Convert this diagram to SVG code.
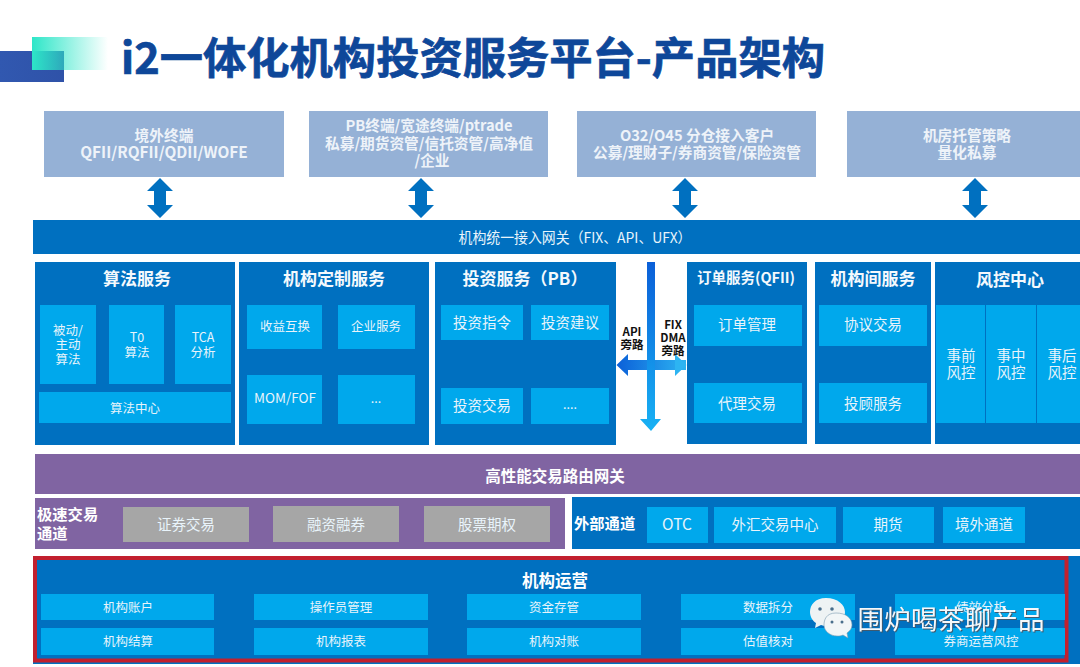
<svg xmlns="http://www.w3.org/2000/svg" width="1080" height="667" viewBox="0 0 1080 667">
<style>
text{font-family:"Noto Sans CJK SC","Noto Sans",sans-serif;text-anchor:middle;fill:#e9f4fb}
.top{fill:#95b1d6}.bar{fill:#0070c0}.sub{fill:#00a8ec}.pur{fill:#8064a2}.gray{fill:#a6a6a6}
.tt{font-size:14.7px;font-weight:700;fill:#eef3f9}
.h{font-size:17px;font-weight:700;fill:#f4f9fd}
.s{font-size:14.5px}.xs{font-size:12.5px}.m{font-size:15.5px}
.b{font-size:15.3px;font-weight:700;fill:#fff;text-anchor:start}
.blk{font-size:11.5px;font-weight:700;fill:#111}
.ar{fill:#0070c0}
</style>
<defs>
<linearGradient id="g1" x1="0" x2="1" y1="0" y2="0"><stop offset="0" stop-color="#3158b0"/><stop offset="1" stop-color="#2f52a8"/></linearGradient>
<linearGradient id="g2" x1="0" x2="1" y1="0" y2="0"><stop offset="0" stop-color="#2de6c8"/><stop offset="1" stop-color="#2de6c8" stop-opacity="0"/></linearGradient>
<linearGradient id="g3" x1="0" x2="0" y1="262" y2="431" gradientUnits="userSpaceOnUse"><stop offset="0" stop-color="#0b5fd8"/><stop offset="1" stop-color="#18b2f4"/></linearGradient>
<linearGradient id="g4" x1="616" x2="687" y1="0" y2="0" gradientUnits="userSpaceOnUse"><stop offset="0" stop-color="#0b5fd8"/><stop offset="1" stop-color="#2db4f2"/></linearGradient>
<path id="dbl" d="M0 0L13 13H6V27H13L0 40L-13 27H-6V13H-13Z" class="ar"/>
</defs>
<rect width="1080" height="667" fill="#fff"/>
<g id="logo"><rect x="0" y="51" width="64" height="31" fill="url(#g1)"/><rect x="32" y="37" width="76" height="33" fill="url(#g2)"/></g>
<text id="title" x="473" y="74" font-size="43.5" font-weight="700" style="fill:#0e4799;stroke:#0e4799;stroke-width:.7px" textLength="704" lengthAdjust="spacingAndGlyphs">i2一体化机构投资服务平台-产品架构</text>

<g id="client-overseas"><rect class="top" x="44" y="111" width="240" height="66"/><text class="tt" x="164" y="141">境外终端</text><text class="tt" x="164" y="158" style="font-size:15.4px">QFII/RQFII/QDII/WOFE</text></g>
<g id="client-pb"><rect class="top" x="309" y="111" width="239" height="66"/><text class="tt" x="429" y="131">PB终端/宽途终端/ptrade</text><text class="tt" x="429" y="149">私募/期货资管/信托资管/高净值</text><text class="tt" x="432" y="166">/企业</text></g>
<g id="client-o32"><rect class="top" x="577" y="111" width="239" height="66"/><text class="tt" x="697" y="141">O32/O45 分仓接入客户</text><text class="tt" x="697" y="158">公募/理财子/券商资管/保险资管</text></g>
<g id="client-colo"><rect class="top" x="847" y="111" width="233" height="66"/><text class="tt" x="967" y="141">机房托管策略</text><text class="tt" x="967" y="158">量化私募</text></g>

<g id="gateway"><rect class="bar" x="33" y="220" width="1047" height="34"/><text x="575" y="243" font-size="14.500" textLength="233" lengthAdjust="spacingAndGlyphs">机构统一接入网关（FIX、API、UFX）</text></g>

<g id="connectors">
<use href="#dbl" x="160" y="178"/><use href="#dbl" x="421" y="178"/><use href="#dbl" x="685" y="178"/><use href="#dbl" x="975" y="178"/>
<path d="M616.500 365L628 354V360H686V370H628V376Z" fill="url(#g4)"/>
<path d="M686.500 365L675 354V376Z" fill="#2db4f2"/>
<path d="M647 262H655V419H661L651 431L640 419H647Z" fill="url(#g3)"/>
</g>
<g id="bypass-labels">
<text class="blk" x="632" y="336">API</text><text class="blk" x="632" y="349">旁路</text>
<text class="blk" x="673" y="329">FIX</text><text class="blk" x="673" y="342">DMA</text><text class="blk" x="673" y="355">旁路</text>
</g>

<g id="algo"><rect class="bar" x="35" y="262" width="200" height="183"/><text class="h" x="137" y="285">算法服务</text>
<rect class="sub" x="40" y="305" width="56" height="79"/><text class="xs" x="68" y="335">被动/</text><text class="xs" x="68" y="349">主动</text><text class="xs" x="68" y="364">算法</text>
<rect class="sub" x="109" y="305" width="55" height="79"/><text class="xs" x="137" y="342">T0</text><text class="xs" x="137" y="357">算法</text>
<rect class="sub" x="175" y="305" width="56" height="79"/><text class="xs" x="203" y="342">TCA</text><text class="xs" x="203" y="357">分析</text>
<rect class="sub" x="39" y="392" width="192" height="31"/><text class="xs" x="135" y="413">算法中心</text></g>

<g id="custom"><rect class="bar" x="239" y="262" width="190" height="183"/><text class="h" x="334" y="285">机构定制服务</text>
<rect class="sub" x="247" y="305" width="75" height="44"/><text class="xs" x="285" y="331">收益互换</text>
<rect class="sub" x="338" y="305" width="77" height="44"/><text class="xs" x="376" y="331">企业服务</text>
<rect class="sub" x="247" y="375" width="75" height="49"/><text class="xs" x="285" y="403" style="font-size:13.500px">MOM/FOF</text>
<rect class="sub" x="338" y="375" width="77" height="49"/><text class="xs" x="376" y="403">...</text></g>

<g id="invest"><rect class="bar" x="435" y="262" width="181" height="183"/><text class="h" x="525" y="285">投资服务（PB）</text>
<rect class="sub" x="441" y="305" width="82" height="35"/><text class="s" x="482" y="328">投资指令</text>
<rect class="sub" x="531" y="305" width="78" height="35"/><text class="s" x="570" y="328">投资建议</text>
<rect class="sub" x="441" y="388" width="82" height="36"/><text class="s" x="482" y="411">投资交易</text>
<rect class="sub" x="531" y="388" width="78" height="36"/><text class="xs" x="570" y="409">....</text></g>

<g id="order"><rect class="bar" x="687" y="262" width="120" height="182"/><text x="746" y="283" font-size="14.500" font-weight="700" style="fill:#f4f9fd">订单服务(QFII)</text>
<rect class="sub" x="694" y="305" width="108" height="41"/><text class="s" x="747" y="330">订单管理</text>
<rect class="sub" x="694" y="383" width="108" height="40"/><text class="s" x="747" y="409">代理交易</text></g>

<g id="inter"><rect class="bar" x="815" y="262" width="116" height="182"/><text class="h" x="873" y="285">机构间服务</text>
<rect class="sub" x="819" y="305" width="108" height="41"/><text class="s" x="873" y="330">协议交易</text>
<rect class="sub" x="819" y="383" width="108" height="40"/><text class="s" x="873" y="409">投顾服务</text></g>

<g id="risk"><rect class="bar" x="935" y="262" width="145" height="182"/><text class="h" x="1010" y="286">风控中心</text>
<rect class="sub" x="936" y="305" width="49" height="118"/><text class="s" x="961" y="361">事前</text><text class="s" x="961" y="378">风控</text>
<rect class="sub" x="986" y="305" width="50" height="118"/><text class="s" x="1011" y="361">事中</text><text class="s" x="1011" y="378">风控</text>
<rect class="sub" x="1037" y="305" width="43" height="118"/><text class="s" x="1062" y="361">事后</text><text class="s" x="1062" y="378">风控</text></g>

<g id="router"><rect class="pur" x="35" y="454" width="1045" height="40"/><text x="555" y="482" font-size="15.500" font-weight="700" style="fill:#fff">高性能交易路由网关</text></g>

<g id="fast"><rect class="pur" x="35" y="498" width="530" height="51"/><text class="b" x="37" y="520">极速交易</text><text class="b" x="37" y="539">通道</text>
<rect class="gray" x="123" y="507" width="126" height="35"/><text class="s" x="186" y="530">证券交易</text>
<rect class="gray" x="273" y="506" width="126" height="36"/><text class="s" x="336" y="530">融资融券</text>
<rect class="gray" x="424" y="506" width="126" height="36"/><text class="s" x="487" y="530">股票期权</text></g>

<g id="external"><rect class="bar" x="572" y="497" width="508" height="52"/><text class="b" x="574" y="529">外部通道</text>
<rect class="sub" x="647" y="507" width="61" height="36"/><text class="m" x="677" y="530">OTC</text>
<rect class="sub" x="714" y="507" width="122" height="36"/><text class="s" x="775" y="530">外汇交易中心</text>
<rect class="sub" x="843" y="507" width="91" height="36"/><text class="s" x="888" y="530">期货</text>
<rect class="sub" x="943" y="507" width="82" height="36"/><text class="s" x="984" y="530">境外通道</text></g>

<g id="ops"><rect class="bar" x="33" y="556" width="1047" height="108"/>
<rect x="35" y="558" width="1031.500" height="102.500" fill="none" stroke="#c2202e" stroke-width="4"/>
<text x="555" y="587" font-size="16.500" font-weight="700" style="fill:#fff">机构运营</text>
<rect class="sub" x="41" y="594" width="173" height="26"/><text class="xs" x="128" y="612">机构账户</text>
<rect class="sub" x="254" y="594" width="174" height="26"/><text class="xs" x="341" y="612">操作员管理</text>
<rect class="sub" x="467" y="594" width="174" height="26"/><text class="xs" x="554" y="612">资金存管</text>
<rect class="sub" x="681" y="594" width="174" height="26"/><text class="xs" x="768" y="612">数据拆分</text>
<rect class="sub" x="895" y="594" width="170" height="26"/><text class="xs" x="981" y="612">绩效分析</text>
<rect class="sub" x="41" y="628" width="173" height="27"/><text class="xs" x="128" y="646">机构结算</text>
<rect class="sub" x="254" y="628" width="174" height="27"/><text class="xs" x="341" y="646">机构报表</text>
<rect class="sub" x="467" y="628" width="174" height="27"/><text class="xs" x="554" y="646">机构对账</text>
<rect class="sub" x="681" y="628" width="174" height="27"/><text class="xs" x="768" y="646">估值核对</text>
<rect class="sub" x="895" y="628" width="170" height="27"/><text class="xs" x="981" y="646">券商运营风控</text></g>

<g id="watermark">
<path d="M826 598C815 598 810 605 810 612C810 617 813 621 816 623L815 628L821 625C823 626 826 626 828 626C840 626 845 619 845 612C845 605 838 598 826 598Z" fill="#eef3f4"/>
<circle cx="820" cy="609" r="1.800" fill="#4a6f8c"/><circle cx="832" cy="609" r="1.800" fill="#4a6f8c"/>
<path d="M836 613C826 613 824 620 824 625C824 631 830 636 837 636C839 636 841 636 843 635L848 638L847 633C850 631 852 628 852 625C852 618 846 613 836 613Z" fill="#f2f6f7" stroke="#7a9ab0" stroke-width=".6"/>
<circle cx="832" cy="622" r="1.500" fill="#4a6f8c"/><circle cx="842" cy="622" r="1.500" fill="#4a6f8c"/>
<text x="951" y="629" font-size="26.500" style="fill:#f6f8fa;filter:drop-shadow(1px 1px .6px #3f5a70)" textLength="187">围炉喝茶聊产品</text>
</g>
</svg>
